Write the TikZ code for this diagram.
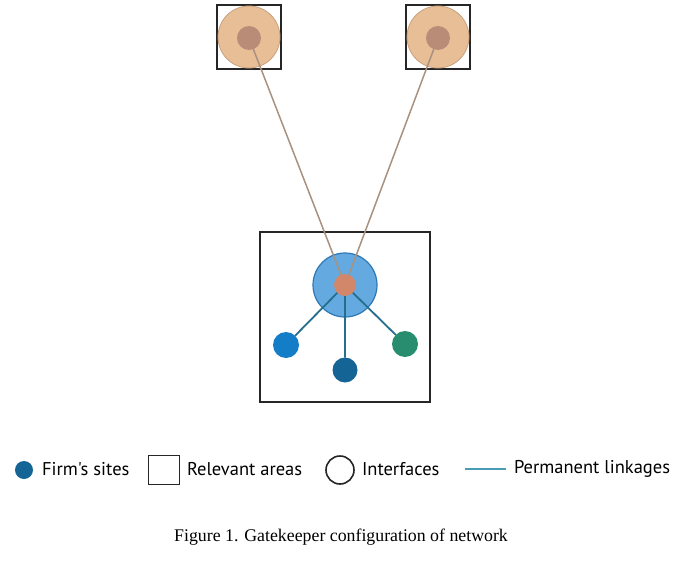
\documentclass[tikz,border=0pt]{standalone}
\usepackage{fontspec}
\setmainfont{Liberation Serif}
\newfontfamily\keyfont{PT Sans}
\definecolor{tanfill}{HTML}{E8BE96}
\definecolor{tanline}{HTML}{C9A07E}
\definecolor{hubbrown}{HTML}{B98C78}
\definecolor{linkgrey}{HTML}{A8917F}
\definecolor{gateblue}{HTML}{64AAE1}
\definecolor{gateline}{HTML}{2E78B4}
\definecolor{hubred}{HTML}{D2876A}
\definecolor{linkteal}{HTML}{256E8E}
\definecolor{siteA}{HTML}{147DC8}
\definecolor{siteB}{HTML}{146496}
\definecolor{siteC}{HTML}{288C6E}
\definecolor{keyline}{HTML}{4A9CB4}
\begin{document}
\begin{tikzpicture}[x=1pt,y=-1pt,inner sep=0pt,outer sep=0pt]
  \tikzstyle{area}=[draw=black!85,line width=2.4pt,minimum size=64pt]
  \tikzstyle{outer}=[circle,fill=tanfill,draw=tanline,line width=0.8pt,minimum size=62pt]
  \tikzstyle{hub}=[circle,fill=hubbrown,minimum size=24pt]
  \tikzstyle{site}=[circle,minimum size=26pt]
  \tikzstyle{link}=[linkteal,line width=1.8pt]
  \tikzstyle{key}=[anchor=west,font=\keyfont\fontsize{18.5}{21}\selectfont]
  \useasboundingbox (0,0) rectangle (673,581);
  % areas
  \node[area] (areaL) at (249,37) {};
  \node[area] (areaR) at (438,37) {};
  \node[area,minimum size=170pt] (areaG) at (345,317) {};
  % interfaces
  \node[outer] (ifL) at (249,37) {};
  \node[outer] (ifR) at (438,37) {};
  \node[circle,fill=gateblue,draw=gateline,line width=1.2pt,minimum size=64pt] (gate) at (345,285) {};
  \node[hub] (hubL) at (249,38) {};
  \node[hub] (hubR) at (438,38) {};
  \node[hub,fill=hubred,minimum size=22pt] (gatehub) at (345,285) {};
  % firm's sites
  \node[site,fill=siteA] (siteL) at (286,345) {};
  \node[site,fill=siteB,minimum size=25pt] (siteM) at (345,370) {};
  \node[site,fill=siteC] (siteR) at (405,344) {};
  % linkages
  \draw[linkgrey,line width=1.5pt] (hubL) -- (gatehub) (hubR) -- (gatehub);
  \draw[link] (gatehub) -- (siteL) (gatehub) -- (siteM) (gatehub) -- (siteR);
  % legend
  \node[circle,fill=siteB,minimum size=18pt] (keySite) at (24,470) {};
  \node[key] (txtSite) at (42,469) {Firm's sites};
  \node[draw=black!85,line width=1.6pt,minimum width=31pt,minimum height=29pt] (keyArea) at (164,470) {};
  \node[key] (txtArea) at (187,469) {Relevant areas};
  \node[circle,draw=black!85,line width=1.6pt,minimum size=28pt] (keyIf) at (340,470) {};
  \node[key] (txtIf) at (362,469) {Interfaces};
  \coordinate (keyA) at (465,469);
  \coordinate (keyB) at (506,469);
  \draw[keyline,line width=1.2pt] (keyA) -- (keyB);
  \node[key] (txtLink) at (514,469) {Permanent linkages};
  % caption
  \node[font=\fontsize{17.8}{20}\selectfont] (caption) at (341,537) {Figure 1. Gatekeeper configuration of network};
\end{tikzpicture}
\end{document}
